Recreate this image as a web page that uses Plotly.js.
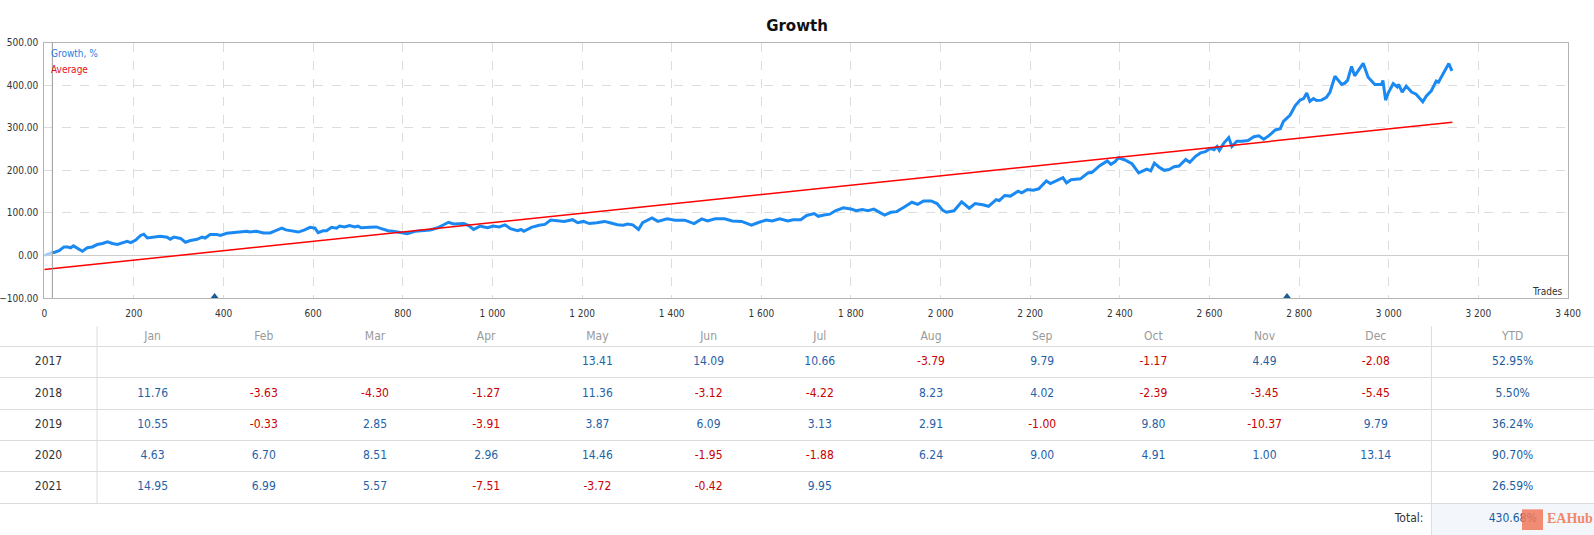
<!DOCTYPE html>
<html>
<head>
<meta charset="utf-8">
<script src="https://cdn.plot.ly/plotly-3.0.1.min.js"></script>
<style>
  html, body { margin: 0; padding: 0; background: #fff; }
  #growth-graph { width: 1594px; height: 535px; }
</style>
</head>
<body>
<div id="growth-graph"></div>
<script>
// growth curve (trade number -> growth %)
const growthTrades = [18, 22, 33, 44, 52, 59, 65, 74, 85, 96, 107, 118, 130, 141, 152, 163, 174, 185, 193, 204,
    215, 222, 230, 244, 259, 274, 281, 289, 304, 315, 326, 341, 352, 359, 370, 385, 393, 407, 422, 437,
    452, 459, 474, 489, 504, 515, 530, 539, 556, 567, 581, 593, 604, 611, 622, 630, 641, 652, 659, 670,
    681, 693, 700, 707, 726, 741, 752, 767, 778, 793, 810, 827, 844, 861, 878, 891, 902, 913, 925, 936,
    947, 958, 972, 989, 1002, 1015, 1028, 1040, 1056, 1064, 1070, 1087, 1104, 1117, 1130, 1143, 1160, 1179, 1190, 1203,
    1216, 1233, 1250, 1262, 1279, 1292, 1301, 1313, 1326, 1335, 1356, 1369, 1390, 1407, 1429, 1450, 1467, 1480, 1497, 1518,
    1535, 1556, 1578, 1595, 1611, 1624, 1641, 1659, 1671, 1688, 1701, 1718, 1727, 1740, 1753, 1765, 1783, 1800, 1812, 1825,
    1838, 1851, 1864, 1875, 1889, 1902, 1919, 1936, 1949, 1962, 1979, 1992, 2005, 2013, 2030, 2047, 2064, 2077, 2094, 2107,
    2124, 2131, 2143, 2156, 2173, 2181, 2194, 2207, 2219, 2236, 2245, 2262, 2273, 2281, 2291, 2312, 2329, 2338, 2355, 2372,
    2380, 2389, 2397, 2410, 2427, 2442, 2460, 2469, 2477, 2487, 2499, 2510, 2521, 2532, 2547, 2556, 2569, 2580, 2591, 2602,
    2610, 2617, 2622, 2632, 2643, 2650, 2661, 2673, 2686, 2699, 2710, 2721, 2732, 2747, 2758, 2765, 2780, 2791, 2802, 2810,
    2817, 2824, 2832, 2839, 2850, 2861, 2869, 2880, 2895, 2902, 2908, 2917, 2924, 2943, 2954, 2969, 2984, 2987, 2993, 2999,
    3010, 3019, 3022, 3030, 3039, 3051, 3061, 3076, 3084, 3095, 3106, 3111, 3121, 3134, 3141];
const growthPct = [7, 7, 11, 20, 20, 18, 22.5, 16, 10, 18, 20, 25.6, 28, 32, 28, 26, 30, 33, 30, 36,
    47, 50, 41, 43, 45, 43, 38, 43, 40, 31, 35, 38, 43, 41, 49, 49, 47, 52, 53.5, 55,
    57, 55, 57, 53, 53, 58, 64, 60, 58, 55, 60, 66, 64, 53.5, 58, 58, 66, 64, 69, 67,
    70.5, 67, 69, 65, 66, 67, 63, 58, 57, 54, 51, 56.6, 58, 60, 65, 72, 78, 74, 74, 75,
    70, 61, 69, 65, 69, 67, 72, 63, 58, 61, 56.6, 66, 71, 73, 83, 81, 80, 84, 77, 80,
    75, 77, 80, 77, 72, 71, 74, 72, 61, 77, 88, 80, 86, 83, 83, 75, 86, 81, 86, 86,
    81, 80, 71, 78, 83, 81, 86, 81, 84, 84, 94, 98.5, 92, 95, 97, 105, 112, 109, 105, 108,
    105, 109, 101.5, 95, 101.5, 103, 114, 125, 120, 128, 128, 122, 106, 101.5, 105, 126, 111, 122, 119, 115.5,
    131, 129, 141, 139.5, 151, 147, 155, 153.5, 156.6, 175, 169, 178, 183, 170.5, 178, 180, 194, 195.5, 211, 222,
    214, 220, 229.5, 225, 215.5, 194, 203, 199, 217, 208, 200, 202, 208.5, 210, 225.5, 219, 233, 241, 244, 251.5,
    248.5, 256, 247, 264, 277, 256, 268.5, 268.5, 270, 279, 281, 273, 281, 295, 298, 315, 330, 351.5, 365, 368.5,
    382, 362, 368.5, 364, 365, 371.5, 384, 421, 402, 405, 411.5, 444, 422, 451.5, 419, 402, 402, 411.5, 365, 382,
    404, 396, 402, 384, 398, 384, 379, 361, 375, 387, 410, 407, 427, 451, 434];
// the pale piece before the signal start
const startTrades = [0, 18];
const startPct = [0, 7];
const signalStart = 18;
// average line
const avgTrades = [0, 3142];
const avgPct = [-33, 313];
// deposit marks on the bottom axis
const depositTrades = [380, 2773];
const axisFloor = -100;

// monthly table
const years = ['2017', '2018', '2019', '2020', '2021'];
const months = ['Jan', 'Feb', 'Mar', 'Apr', 'May', 'Jun', 'Jul', 'Aug', 'Sep', 'Oct', 'Nov', 'Dec'];
const monthly = [
    [null, null, null, null, 13.41, 14.09, 10.66, -3.79, 9.79, -1.17, 4.49, -2.08],
    [11.76, -3.63, -4.30, -1.27, 11.36, -3.12, -4.22, 8.23, 4.02, -2.39, -3.45, -5.45],
    [10.55, -0.33, 2.85, -3.91, 3.87, 6.09, 3.13, 2.91, -1.00, 9.80, -10.37, 9.79],
    [4.63, 6.70, 8.51, 2.96, 14.46, -1.95, -1.88, 6.24, 9.00, 4.91, 1.00, 13.14],
    [14.95, 6.99, 5.57, -7.51, -3.72, -0.42, 9.95, null, null, null, null, null]
];
const ytd = [52.95, 5.50, 36.24, 90.70, 26.59];
const total = 430.68;

// table geometry (column widths, like a table's columnwidth)
const yearColW = 97;
const monthColW = 111.2;
const tableW = 1594;
const monthX = months.map((m, i) => yearColW + monthColW * (i + 0.5));
const ytdEdge = yearColW + monthColW * 12;
const ytdX = (ytdEdge + tableW) / 2;
const yearX = yearColW / 2;
const headerRow = 0.18;
const totalRow = 6;

const tick = "'DejaVu Sans Condensed', 'Liberation Sans', sans-serif";
const blue = '#1f62a8';
const red = '#c80000';

const cellX = [], cellY = [], cellText = [], cellColor = [];
monthly.forEach((row, r) => {
    row.forEach((v, c) => {
        if (v === null) return;
        cellX.push(monthX[c]);
        cellY.push(r + 1);
        cellText.push(v.toFixed(2));
        cellColor.push(v < 0 ? red : blue);
    });
});

const startTrace = {
    x: startTrades, y: startPct, mode: 'lines',
    line: {color: '#a9cdf3', width: 3}, hoverinfo: 'skip'
};
const growthTrace = {
    x: growthTrades, y: growthPct, mode: 'lines', name: 'Growth, %',
    line: {color: '#1a8af2', width: 3}
};
const avgTrace = {
    x: avgTrades, y: avgPct, mode: 'lines', name: 'Average',
    line: {color: '#ff0000', width: 1.5}
};
const depositTrace = {
    x: depositTrades, y: depositTrades.map(() => axisFloor), mode: 'markers',
    marker: {symbol: 'triangle-up', size: 10, color: '#1a5a96'},
    cliponaxis: true, hoverinfo: 'x'
};
const headerTrace = {
    x: monthX.concat([ytdX]), y: monthX.concat([ytdX]).map(() => headerRow),
    text: months.concat(['YTD']), mode: 'text', xaxis: 'x2', yaxis: 'y2',
    textfont: {family: tick, size: 12, color: '#999999'}, hoverinfo: 'skip'
};
const yearTrace = {
    x: years.map(() => yearX), y: years.map((y, i) => i + 1), text: years,
    mode: 'text', xaxis: 'x2', yaxis: 'y2',
    textfont: {family: tick, size: 12, color: '#333333'}, hoverinfo: 'skip'
};
const cellTrace = {
    x: cellX, y: cellY, text: cellText, mode: 'text', xaxis: 'x2', yaxis: 'y2',
    textfont: {family: tick, size: 12, color: cellColor}, hoverinfo: 'skip'
};
const ytdTrace = {
    x: ytd.map(() => ytdX).concat([ytdX]), y: ytd.map((v, i) => i + 1).concat([totalRow]),
    text: ytd.concat([total]).map(v => v.toFixed(2) + '%'),
    mode: 'text', xaxis: 'x2', yaxis: 'y2',
    textfont: {family: tick, size: 12, color: '#1a5c9e'}, hoverinfo: 'skip'
};
const totalTrace = {
    x: [ytdEdge - 8], y: [totalRow], text: ['Total:'], mode: 'text', textposition: 'middle left',
    xaxis: 'x2', yaxis: 'y2',
    textfont: {family: tick, size: 12, color: '#333333'}, hoverinfo: 'skip'
};

const data = [startTrace, growthTrace, avgTrace, depositTrace,
    headerTrace, yearTrace, cellTrace, ytdTrace, totalTrace];

const grid = '#dcdcdc';
const layout = {
    width: 1594, height: 535,
    margin: {l: 0, r: 0, t: 0, b: 0},
    paper_bgcolor: '#ffffff', plot_bgcolor: '#ffffff',
    showlegend: false,
    separators: '. ',
    title: {
        text: 'Growth', x: 0.5, xref: 'paper', y: 1 - 25.7 / 535, yref: 'paper', yanchor: 'middle',
        font: {family: "'DejaVu Sans', sans-serif", size: 15, weight: 'bold', color: '#111111'}
    },
    xaxis: {
        domain: [44.3 / 1594, 1568 / 1594], range: [0, 3400], tick0: 0, dtick: 200,
        tickformat: ',d', showgrid: true, griddash: 'dash', gridcolor: grid,
        showline: true, mirror: true, linecolor: '#b4b4b4', zeroline: false,
        ticks: '', ticklabelstandoff: 6,
        tickfont: {family: tick, size: 10, color: '#333333'}, fixedrange: true
    },
    yaxis: {
        domain: [1 - 298 / 535, 1 - 42.7 / 535], range: [-100, 500], tick0: 0, dtick: 100,
        tickformat: '.2f', showgrid: true, griddash: 'dash', gridcolor: grid,
        zeroline: true, zerolinecolor: '#cccccc', zerolinewidth: 1,
        showline: true, mirror: true, linecolor: '#b4b4b4',
        ticks: '', ticklabelstandoff: 3,
        tickfont: {family: tick, size: 10, color: '#333333'}, fixedrange: true
    },
    xaxis2: {
        domain: [0, 1], range: [0, tableW], anchor: 'y2', visible: false, fixedrange: true
    },
    yaxis2: {
        domain: [0, 1 - 322 / 535], range: [6.52, -0.29], anchor: 'x2',
        tickvals: [0.5, 1.5, 2.5, 3.5, 4.5, 5.5], showticklabels: false, ticks: '',
        showgrid: true, gridcolor: grid, gridwidth: 1, zeroline: false, showline: false, fixedrange: true
    },
    shapes: [
        {type: 'line', xref: 'x', yref: 'y domain', x0: signalStart, x1: signalStart, y0: 0, y1: 1,
            line: {color: '#999999', width: 1}},
        {type: 'rect', xref: 'x2', yref: 'y2', x0: ytdEdge, x1: tableW, y0: 5.5, y1: 6.52,
            fillcolor: '#f3f6fb', line: {width: 0}, layer: 'below'},
        {type: 'line', xref: 'x2', yref: 'y2', x0: yearColW, x1: yearColW, y0: -0.15, y1: 5.5,
            line: {color: grid, width: 1}},
        {type: 'line', xref: 'x2', yref: 'y2', x0: ytdEdge, x1: ytdEdge, y0: -0.15, y1: 6.52,
            line: {color: grid, width: 1}},
        // watermark badge
        {type: 'rect', xref: 'x2', yref: 'y2', x0: 1522, x1: 1543, y0: 5.7, y1: 6.36,
            fillcolor: 'rgba(240,120,90,0.85)', line: {width: 0}, layer: 'above'}
    ],
    annotations: [
        {text: 'Growth, %', xref: 'x domain', yref: 'y domain', x: 0, y: 1, xanchor: 'left', yanchor: 'middle',
            xshift: 5, yshift: -10.6, showarrow: false, font: {family: tick, size: 10, color: '#2c7be5'}},
        {text: 'Average', xref: 'x domain', yref: 'y domain', x: 0, y: 1, xanchor: 'left', yanchor: 'middle',
            xshift: 5, yshift: -26.6, showarrow: false, font: {family: tick, size: 10, color: '#e8101a'}},
        {text: 'Trades', xref: 'x domain', yref: 'y domain', x: 1, y: 0, xanchor: 'right', yanchor: 'middle',
            xshift: -4, yshift: 6.5, showarrow: false, font: {family: tick, size: 10, color: '#333333'}},
        {text: '<b>EAHub</b>', xref: 'paper', yref: 'paper', x: 1546 / 1594, y: 1 - 518 / 535,
            xanchor: 'left', yanchor: 'middle', showarrow: false, borderpad: 0,
            font: {family: "'Liberation Serif', serif", size: 14, color: '#f0886a'}}
    ]
};
const config = {
    responsive: false,
    displayModeBar: false,
    staticPlot: true
};
const graphDiv = document.getElementById('growth-graph');
Plotly.newPlot(graphDiv, data, layout, config);
</script>
</body>
</html>
